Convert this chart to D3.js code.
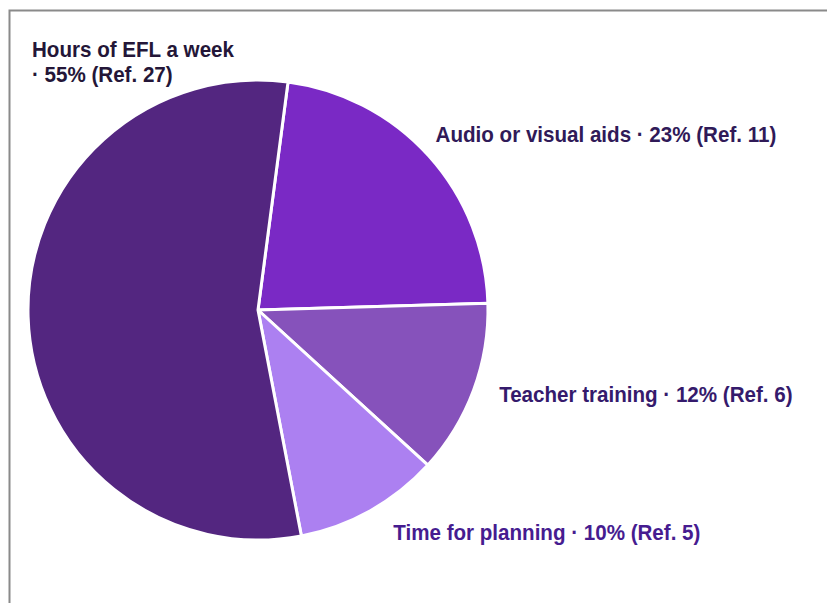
<!DOCTYPE html>
<html>
<head>
<meta charset="utf-8">
<script src="https://cdn.jsdelivr.net/npm/d3@7/dist/d3.min.js"></script>
<style>
  html, body { margin: 0; padding: 0; background: #fff; }
  svg { display: block; }
  .lbl { font-family: "Liberation Sans", Arial, sans-serif; font-weight: bold; font-size: 22.5px; }
</style>
</head>
<body>
<svg id="chart" width="827" height="603"></svg>
<script>
// Answers to "what would most improve EFL teaching?" (reference counts)
const categories = ["Audio or visual aids", "Teacher training", "Time for planning", "Hours of EFL a week"];
const counts = [11, 6, 5, 27];
const sliceColors = ["#7a29c5", "#8652bb", "#ac80f1", "#532680"];
const labelColors = ["#301a58", "#351a6c", "#461c90", "#241638"];

const width = 827, height = 603;
const svg = d3.select("#chart");

// frame
svg.append("rect")
  .attr("x", 9.5).attr("y", 10.5)
  .attr("width", width).attr("height", height)
  .attr("fill", "none").attr("stroke", "#8a8a8a").attr("stroke-width", 2);

const cx = 258, cy = 310, r = 230;
const total = d3.sum(counts);
const startDeg = 7.5;

// whole percentages that add up to 100 (largest remainder)
const raw = counts.map(v => v / total * 100);
const pcts = raw.map(Math.floor);
let left = 100 - d3.sum(pcts);
d3.range(counts.length)
  .sort((a, b) => (raw[b] - pcts[b]) - (raw[a] - pcts[a]))
  .forEach(i => { if (left > 0) { pcts[i] += 1; left -= 1; } });

const pie = d3.pie().sort(null).value(d => d.value)
  .startAngle(startDeg * Math.PI / 180)
  .endAngle((startDeg + 360) * Math.PI / 180);

const data = categories.map((c, i) => ({ name: c, value: counts[i], pct: pcts[i], color: sliceColors[i], lc: labelColors[i] }));
const arcs = pie(data);
const arc = d3.arc().innerRadius(0).outerRadius(r);

const g = svg.append("g").attr("transform", `translate(${cx},${cy})`);
g.selectAll("path").data(arcs).join("path")
  .attr("d", arc)
  .attr("fill", d => d.data.color)
  .attr("stroke", "#fff").attr("stroke-width", 3).attr("stroke-linejoin", "round");

const narrow = 0.915; // condensed label face
const labels = svg.append("g");

function addLabel(x, y, lines, color) {
  const t = labels.append("text").attr("class", "lbl")
    .attr("transform", `translate(${x},${y}) scale(${narrow},1)`)
    .attr("fill", color);
  lines.forEach((s, k) => t.append("tspan").attr("x", 0).attr("dy", k ? 25 : 0).text(s));
}

arcs.forEach(d => {
  const mid = (d.startAngle + d.endAngle) / 2;
  const tail = `· ${d.data.pct}% (Ref. ${d.data.value})`;
  if (Math.sin(mid) > 0) {
    // right-hand slices: label just outside the rim at the slice's mid angle
    const rr = r + 22;
    const x = cx + rr * Math.sin(mid) + 14 * (-Math.cos(mid));
    const y = cy - rr * Math.cos(mid) + 1 + 10 * Math.max(0, -Math.cos(mid));
    addLabel(x, y, [`${d.data.name} ${tail}`], d.data.lc);
  } else {
    // large left slice: label wrapped into the top-left corner
    addLabel(32, 57, [d.data.name, tail], d.data.lc);
  }
});
</script>
</body>
</html>
